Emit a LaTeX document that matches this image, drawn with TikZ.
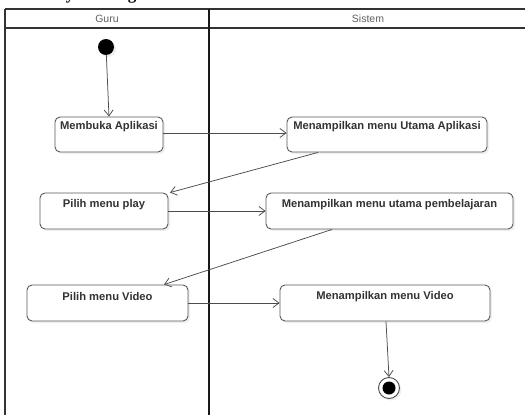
\documentclass[tikz,border=0pt]{standalone}
\usepackage{fontspec}
\setmainfont{Liberation Sans}
\newfontfamily\headfont{Liberation Serif}
\usetikzlibrary{arrows.meta,shadows}
\begin{document}
\begin{tikzpicture}[x=1pt,y=-1pt,
  lane/.style={line width=1.7pt,black!90},
  laneinner/.style={line width=1.2pt,black!80},
  act/.style={draw=black!65,line width=0.9pt,rounded corners=5pt,fill=white,
    drop shadow={opacity=0.12,shadow xshift=2pt,shadow yshift=-2pt},
    inner sep=0pt},
  acttext/.style={font=\bfseries\fontsize{11.2}{13}\selectfont,text=black!80},
  flow/.style={draw=black!70,line width=0.75pt,
    -{Straight Barb[length=6pt,width=9pt,line width=0.75pt]}},
  lanetitle/.style={font=\fontsize{10.5}{12}\selectfont,text=black!62},
  headtext/.style={font=\headfont\bfseries\fontsize{17}{19}\selectfont,anchor=base,inner sep=0pt}]
\useasboundingbox (0,0) rectangle (525,415);
\fill[white] (0,0) rectangle (525,415);

% heading above the lanes, cut by the top edge
\node[headtext] (hy) at (70,-1) {y};
\node[headtext] (hg) at (132,-1) {g};

% swimlanes
\draw[laneinner] (5,9) -- (530,9);
\draw[laneinner] (5,28) -- (530,28);
\draw[laneinner] (5,9) -- (5,420);
\draw[lane] (209,9) -- (209,420);
\node[lanetitle] (lg) at (107,18.5) {Guru};
\node[lanetitle] (ls) at (368,18.5) {Sistem};

% start node
\node[circle,fill=black,minimum size=16pt,inner sep=0pt,
  drop shadow={opacity=0.12,shadow xshift=2pt,shadow yshift=-2pt}] (start) at (106,47) {};

% activities
\node[act,minimum width=108pt,minimum height=35pt] (a1) at (109,134.5) {};
\node[acttext] (t1) at (109,126.5) {Membuka Aplikasi};
\node[act,minimum width=200pt,minimum height=35pt] (b1) at (387,134.5) {};
\node[acttext] (u1) at (387,126.5) {Menampilkan menu Utama Aplikasi};

\node[act,minimum width=128pt,minimum height=36pt] (a2) at (104,211) {};
\node[acttext] (t2) at (104,204.5) {Pilih menu play};
\node[act,minimum width=247pt,minimum height=36pt] (b2) at (389.5,211) {};
\node[acttext] (u2) at (389.5,204.5) {Menampilkan menu utama pembelajaran};

\node[act,minimum width=161pt,minimum height=36pt] (a3) at (107.5,303) {};
\node[acttext] (t3) at (107.5,296.5) {Pilih menu Video};
\node[act,minimum width=210pt,minimum height=36pt] (b3) at (385,303) {};
\node[acttext] (u3) at (385,296.5) {Menampilkan menu Video};

% end node
\node[circle,draw=black!70,line width=0.9pt,fill=white,minimum size=21pt,inner sep=0pt,
  drop shadow={opacity=0.12,shadow xshift=2pt,shadow yshift=-2pt}] (stop) at (389,388) {};
\node[circle,fill=black,minimum size=13pt,inner sep=0pt] (stopin) at (stop) {};

% control flows
\draw[flow] (start) -- (a1.north);
\draw[flow] (a1.east |- 0,133) -- (b1.west |- 0,133);
\draw[flow] (b1.south -| 318,0) -- (a2.north -| 170,0);
\draw[flow] (a2.east) -- (b2.west);
\draw[flow] (b2.south -| 332,0) -- (a3.north -| 164,0);
\draw[flow] (a3.east) -- (b3.west);
\draw[flow] (b3.south -| 386,0) -- (stop.north);
\end{tikzpicture}
\end{document}
